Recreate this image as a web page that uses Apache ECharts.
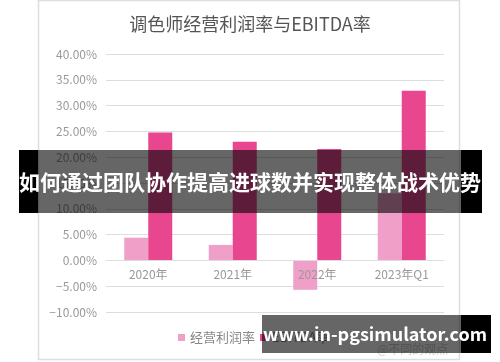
<!DOCTYPE html>
<html>
<head>
<meta charset="utf-8">
<script src="https://cdn.jsdelivr.net/npm/echarts@6/dist/echarts.min.js"></script>
<style>
html,body{margin:0;padding:0;background:#fff;}
#chart{width:500px;height:362px;}
</style>
</head>
<body>
<div id="chart"></div>
<script>
const titleText = '调色师经营利润率与EBITDA率';
const categories = ['2020年', '2021年', '2022年', '2023年Q1'];
const operatingMargin = [4.4, 3.0, -5.7, 13.0];
const ebitdaMargin = [24.8, 23.0, 21.6, 32.9];
const seriesNames = ['经营利润率', 'EBITDA率'];
const yTicks = { min: -10, max: 40, interval: 5 };
const bannerText = '如何通过团队协作提高进球数并实现整体战术优势';
const watermarkText = 'www.in-pgsimulator.com';
const sourceText = '@不同的观点';

const chart = echarts.init(document.getElementById('chart'), null, { renderer: 'canvas' });
const font = '"Noto Sans CJK SC", "Noto Sans", sans-serif';
const gridTop = 54, gridBottom = 50, H = 362;
const plotH = H - gridTop - gridBottom;
const zeroFromBottom = plotH * (0 - yTicks.min) / (yTicks.max - yTicks.min);

chart.setOption({
  animation: false,
  backgroundColor: '#fff',
  title: {
    text: titleText,
    left: 'center',
    top: 10,
    textStyle: { fontSize: 18, fontWeight: 'normal', color: '#555', fontFamily: font }
  },
  legend: {
    left: 173,
    top: 326,
    itemWidth: 7,
    itemHeight: 7,
    itemGap: 5,
    icon: 'rect',
    textStyle: { fontSize: 13, color: '#888', fontFamily: font },
    data: seriesNames
  },
  grid: { left: 106, right: 56, top: gridTop, bottom: gridBottom, containLabel: false },
  xAxis: {
    type: 'category',
    data: categories,
    position: 'bottom',
    offset: -zeroFromBottom,
    z: 10,
    axisLine: { show: true, onZero: false, lineStyle: { color: '#ddd' } },
    axisTick: { show: false },
    axisLabel: { fontSize: 12, color: '#999', fontFamily: font, margin: 8 }
  },
  yAxis: {
    type: 'value',
    min: yTicks.min,
    max: yTicks.max,
    interval: yTicks.interval,
    axisLine: { show: false },
    axisTick: { show: false },
    splitLine: { lineStyle: { color: '#ddd', width: 1 } },
    axisLabel: {
      fontSize: 12, color: '#999', fontFamily: font, margin: 9,
      formatter: v => (v < 0 ? '\u2212' + Math.abs(v).toFixed(2) : v.toFixed(2)) + '%'
    }
  },
  series: [
    {
      name: seriesNames[0], type: 'bar', data: operatingMargin,
      barWidth: 24, barGap: '0%',
      itemStyle: { color: '#F0A0C8' }
    },
    {
      name: seriesNames[1], type: 'bar', data: ebitdaMargin,
      barWidth: 24, barGap: '0%',
      itemStyle: { color: '#E8468E' }
    }
  ],
  graphic: [
    { type: 'rect', z: 0, silent: true, shape: { x: 38.5, y: 0.5, width: 421, height: 359 },
      style: { fill: 'none', stroke: '#ddd', lineWidth: 1.5 } },
    { type: 'text', z: 50, left: 377, top: 343, silent: true,
      style: { text: sourceText, fill: '#ccc', font: '12px ' + font } },
    // banner
    { type: 'rect', z: 100, silent: true, shape: { x: 19, y: 150, width: 19, height: 63 }, style: { fill: '#000' } },
    { type: 'rect', z: 100, silent: true, shape: { x: 461, y: 150, width: 21, height: 63 }, style: { fill: '#000' } },
    { type: 'rect', z: 100, silent: true, shape: { x: 38, y: 150, width: 423, height: 63 }, style: { fill: 'rgba(0,0,0,0.6)' } },
    { type: 'text', z: 101, silent: true, x: 250, y: 182,
      style: { text: bannerText, fill: '#fff', font: 'bold 21px ' + font, align: 'center', verticalAlign: 'middle' } },
    // watermark
    { type: 'rect', z: 100, silent: true, shape: { x: 262, y: 315, width: 201, height: 38 }, style: { fill: 'rgba(0,0,0,0.6)' } },
    { type: 'rect', z: 100, silent: true, shape: { x: 461, y: 315, width: 30, height: 38 }, style: { fill: '#000' } },
    { type: 'text', z: 101, silent: true, x: 375, y: 334,
      style: { text: watermarkText, fill: '#fff', font: 'bold 18px ' + font, align: 'center', verticalAlign: 'middle' } }
  ]
});
</script>
</body>
</html>
